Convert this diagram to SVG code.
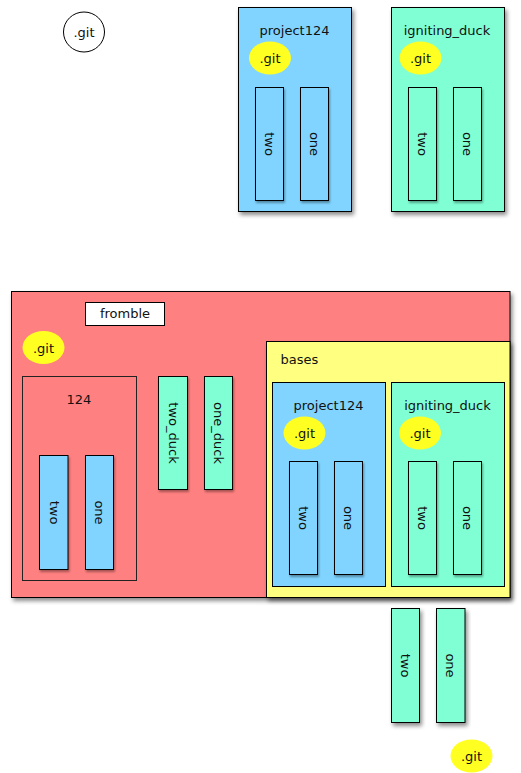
<svg xmlns="http://www.w3.org/2000/svg" width="521" height="773" viewBox="0 0 521 773">
<defs>
<filter id="sh" x="-20%" y="-20%" width="140%" height="140%">
<feDropShadow dx="2" dy="3" stdDeviation="2" flood-color="#000" flood-opacity="0.45"/>
</filter>
<filter id="sh2" x="-30%" y="-10%" width="160%" height="125%">
<feDropShadow dx="1" dy="2" stdDeviation="1.2" flood-color="#000" flood-opacity="0.35"/>
</filter>
</defs>
<style>
text{font-family:"DejaVu Sans",Verdana,sans-serif;font-size:13px;fill:#111}
.b{fill:#80D4FF;stroke:#000;stroke-width:1}
.g{fill:#80FFD4;stroke:#000;stroke-width:1}
.r{fill:#FF8080;stroke:#000;stroke-width:1}
.y{fill:#FFFF80;stroke:#000;stroke-width:1}
.w{fill:#fff;stroke:#000;stroke-width:1}
.n{fill:none;stroke:#222;stroke-width:1}
.git{fill:#FFFF22;stroke:none}
.c{text-anchor:middle}
.v{text-anchor:middle;dominant-baseline:central}
</style>

<g id="git-root">
<ellipse cx="84" cy="32" rx="20.5" ry="20" fill="#fff" stroke="#000" stroke-width="1"/>
<text x="84" y="37" class="c">.git</text>
</g>

<g id="project124-top">
<rect x="238.5" y="7.5" width="113" height="204" class="b" filter="url(#sh)"/>
<text x="294.5" y="35" class="c">project124</text>
<ellipse cx="270" cy="58" rx="21" ry="16.5" class="git"/>
<text x="270" y="63" class="c">.git</text>
<rect x="255.5" y="87.5" width="28" height="113" class="b" filter="url(#sh2)"/>
<text class="v" transform="translate(269.5 144) rotate(90)">two</text>
<rect x="300.5" y="87.5" width="28" height="113" class="b" filter="url(#sh2)"/>
<text class="v" transform="translate(314.5 144) rotate(90)">one</text>
</g>

<g id="igniting-duck-top">
<rect x="391.5" y="7.5" width="113" height="204" class="g" filter="url(#sh)"/>
<text x="447" y="35" class="c">igniting_duck</text>
<ellipse cx="420.5" cy="58" rx="21" ry="16.5" class="git"/>
<text x="420.5" y="63" class="c">.git</text>
<rect x="408.5" y="87.5" width="28" height="113" class="g" filter="url(#sh2)"/>
<text class="v" transform="translate(422.5 144) rotate(90)">two</text>
<rect x="453.5" y="87.5" width="28" height="113" class="g" filter="url(#sh2)"/>
<text class="v" transform="translate(467.5 144) rotate(90)">one</text>
</g>

<g id="fromble">
<rect x="11.5" y="291.5" width="498.5" height="306" class="r" filter="url(#sh)"/>
<rect x="85.5" y="302.5" width="79" height="23" class="w"/>
<text x="125" y="318" class="c">fromble</text>
<ellipse cx="43.5" cy="347.5" rx="21" ry="16.5" class="git"/>
<text x="43.5" y="352.5" class="c">.git</text>
</g>

<g id="dir124">
<rect x="22.5" y="376.5" width="114" height="204" class="n"/>
<text x="79" y="404" class="c">124</text>
<rect x="39.5" y="455.5" width="28.5" height="114" class="b" filter="url(#sh2)"/>
<text class="v" transform="translate(54 512.5) rotate(90)">two</text>
<rect x="85.5" y="455.5" width="28" height="114" class="b" filter="url(#sh2)"/>
<text class="v" transform="translate(99.5 512.5) rotate(90)">one</text>
</g>

<g id="two-duck">
<rect x="158.5" y="376.5" width="29" height="113" class="g" filter="url(#sh2)"/>
<text class="v" transform="translate(173 433) rotate(90)">two_duck</text>
</g>

<g id="one-duck">
<rect x="204.5" y="376.5" width="28" height="113" class="g" filter="url(#sh2)"/>
<text class="v" transform="translate(218.5 433) rotate(90)">one_duck</text>
</g>

<g id="bases">
<rect x="266.5" y="341.5" width="243.5" height="256" class="y" filter="url(#sh)"/>
<text x="280.5" y="363.5">bases</text>
</g>

<g id="project124-inner">
<rect x="272.5" y="382.5" width="113" height="204" class="b"/>
<text x="328.5" y="410" class="c">project124</text>
<ellipse cx="304.5" cy="433" rx="21" ry="16.5" class="git"/>
<text x="304.5" y="438" class="c">.git</text>
<rect x="289.5" y="461.5" width="28" height="113" class="b" filter="url(#sh2)"/>
<text class="v" transform="translate(303.5 518) rotate(90)">two</text>
<rect x="334.5" y="461.5" width="28" height="113" class="b" filter="url(#sh2)"/>
<text class="v" transform="translate(348.5 518) rotate(90)">one</text>
</g>

<g id="igniting-duck-inner">
<rect x="391.5" y="382.5" width="113" height="204" class="g"/>
<text x="447.5" y="410" class="c">igniting_duck</text>
<ellipse cx="420" cy="433" rx="21" ry="16.5" class="git"/>
<text x="420" y="438" class="c">.git</text>
<rect x="408.5" y="461.5" width="28" height="113" class="g" filter="url(#sh2)"/>
<text class="v" transform="translate(422.5 518) rotate(90)">two</text>
<rect x="453.5" y="461.5" width="28" height="113" class="g" filter="url(#sh2)"/>
<text class="v" transform="translate(467.5 518) rotate(90)">one</text>
</g>

<g id="two-bottom">
<rect x="391.5" y="608.5" width="28" height="114" class="g" filter="url(#sh)"/>
<text class="v" transform="translate(405.5 665.5) rotate(90)">two</text>
</g>

<g id="one-bottom">
<rect x="436.5" y="608.5" width="28.5" height="114" class="g" filter="url(#sh)"/>
<text class="v" transform="translate(450.7 665.5) rotate(90)">one</text>
</g>

<g id="git-bottom">
<ellipse cx="471.5" cy="756" rx="21" ry="16.5" class="git"/>
<text x="471.5" y="761" class="c">.git</text>
</g>

<g id="connectors"></g>
</svg>
